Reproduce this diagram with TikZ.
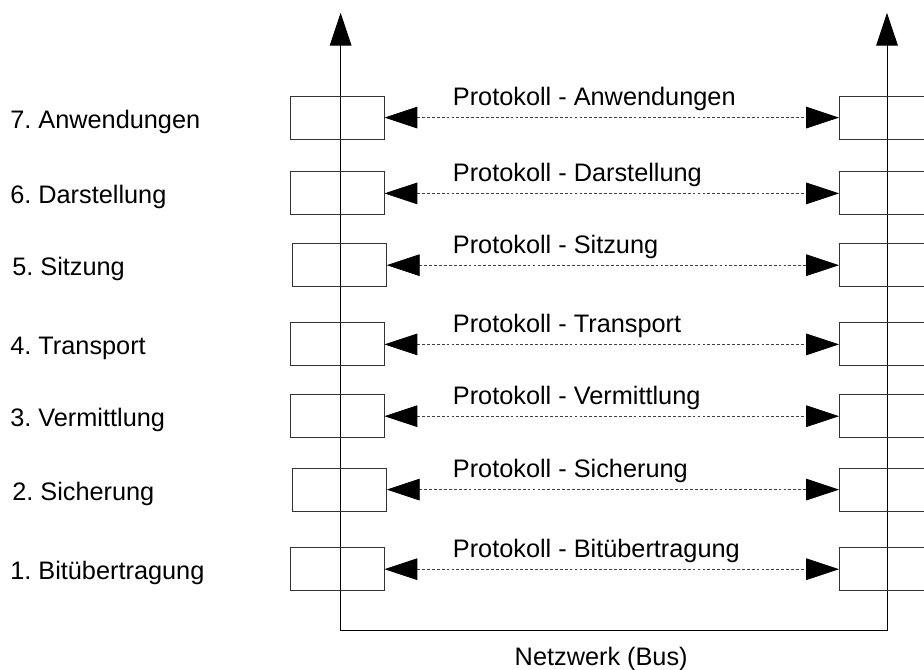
\documentclass[tikz,border=0pt]{standalone}
\usepackage{fontspec}
\setmainfont{Liberation Sans}
\usetikzlibrary{positioning, arrows.meta}
\frenchspacing

\begin{document}
\begin{tikzpicture}[
  >={Triangle[length=8.2mm, width=5.4mm, color=black]},
  font=\fontsize{18}{22}\selectfont,
  layer/.style={draw=black!80, line width=0.7pt, minimum width=23.5mm,
                minimum height=10.75mm, inner sep=0pt, outer sep=0pt},
  lbl/.style={anchor=base west, inner sep=0pt},
  proto/.style={<->, draw=black!75, line width=0.5pt, dash pattern=on 2pt off 1.5pt},
  bus/.style={<->, line width=0.7pt},
]
\clip (0,0) rectangle (23.1,16.75);

% ===================== Bus =====================
\coordinate (Ltop) at (8.515,16.43);
\coordinate (Lbot) at (8.515,1.0);
\coordinate (Rbot) at (22.175,1.0);
\coordinate (Rtop) at (22.175,16.43);
\draw[bus] (Ltop) -- (Lbot) -- (Rbot) -- (Rtop);
\node[lbl, anchor=base] (net) at (15.03,0.105) {Netzwerk (Bus)};

% ===================== Layer 7 =====================
\node[layer] (L7) at (8.4375,13.81) {};
\node[layer] (R7) at (22.15,13.81) {};
\node[lbl] (n7) at (0.25,13.545) {7. Anwendungen};
\node[lbl] (p7) at (11.315,14.11) {Protokoll - Anwendungen};
\draw[proto] (L7) -- (R7);

% ===================== Layer 6 =====================
\node[layer] (L6) at (8.4375,11.915) {};
\node[layer] (R6) at (22.15,11.915) {};
\node[lbl] (n6) at (0.25,11.65) {6. Darstellung};
\node[lbl] (p6) at (11.315,12.215) {Protokoll - Darstellung};
\draw[proto] (L6) -- (R6);

% ===================== Layer 5 =====================
\node[layer] (L5) at (8.495,10.12) {};
\node[layer] (R5) at (22.15,10.12) {};
\node[lbl] (n5) at (0.30,9.855) {5. Sitzung};
\node[lbl] (p5) at (11.315,10.42) {Protokoll - Sitzung};
\draw[proto] (L5) -- (R5);

% ===================== Layer 4 =====================
\node[layer] (L4) at (8.4375,8.14) {};
\node[layer] (R4) at (22.15,8.14) {};
\node[lbl] (n4) at (0.25,7.875) {4. Transport};
\node[lbl] (p4) at (11.315,8.44) {Protokoll - Transport};
\draw[proto] (L4) -- (R4);

% ===================== Layer 3 =====================
\node[layer] (L3) at (8.4375,6.345) {};
\node[layer] (R3) at (22.15,6.345) {};
\node[lbl] (n3) at (0.25,6.08) {3. Vermittlung};
\node[lbl] (p3) at (11.315,6.645) {Protokoll - Vermittlung};
\draw[proto] (L3) -- (R3);

% ===================== Layer 2 =====================
\node[layer] (L2) at (8.495,4.51) {};
\node[layer] (R2) at (22.15,4.51) {};
\node[lbl] (n2) at (0.30,4.245) {2. Sicherung};
\node[lbl] (p2) at (11.315,4.81) {Protokoll - Sicherung};
\draw[proto] (L2) -- (R2);

% ===================== Layer 1 =====================
\node[layer] (L1) at (8.4375,2.52) {};
\node[layer] (R1) at (22.15,2.52) {};
\node[lbl] (n1) at (0.25,2.255) {1. Bitübertragung};
\node[lbl] (p1) at (11.315,2.82) {Protokoll - Bitübertragung};
\draw[proto] (L1) -- (R1);
\end{tikzpicture}
\end{document}
